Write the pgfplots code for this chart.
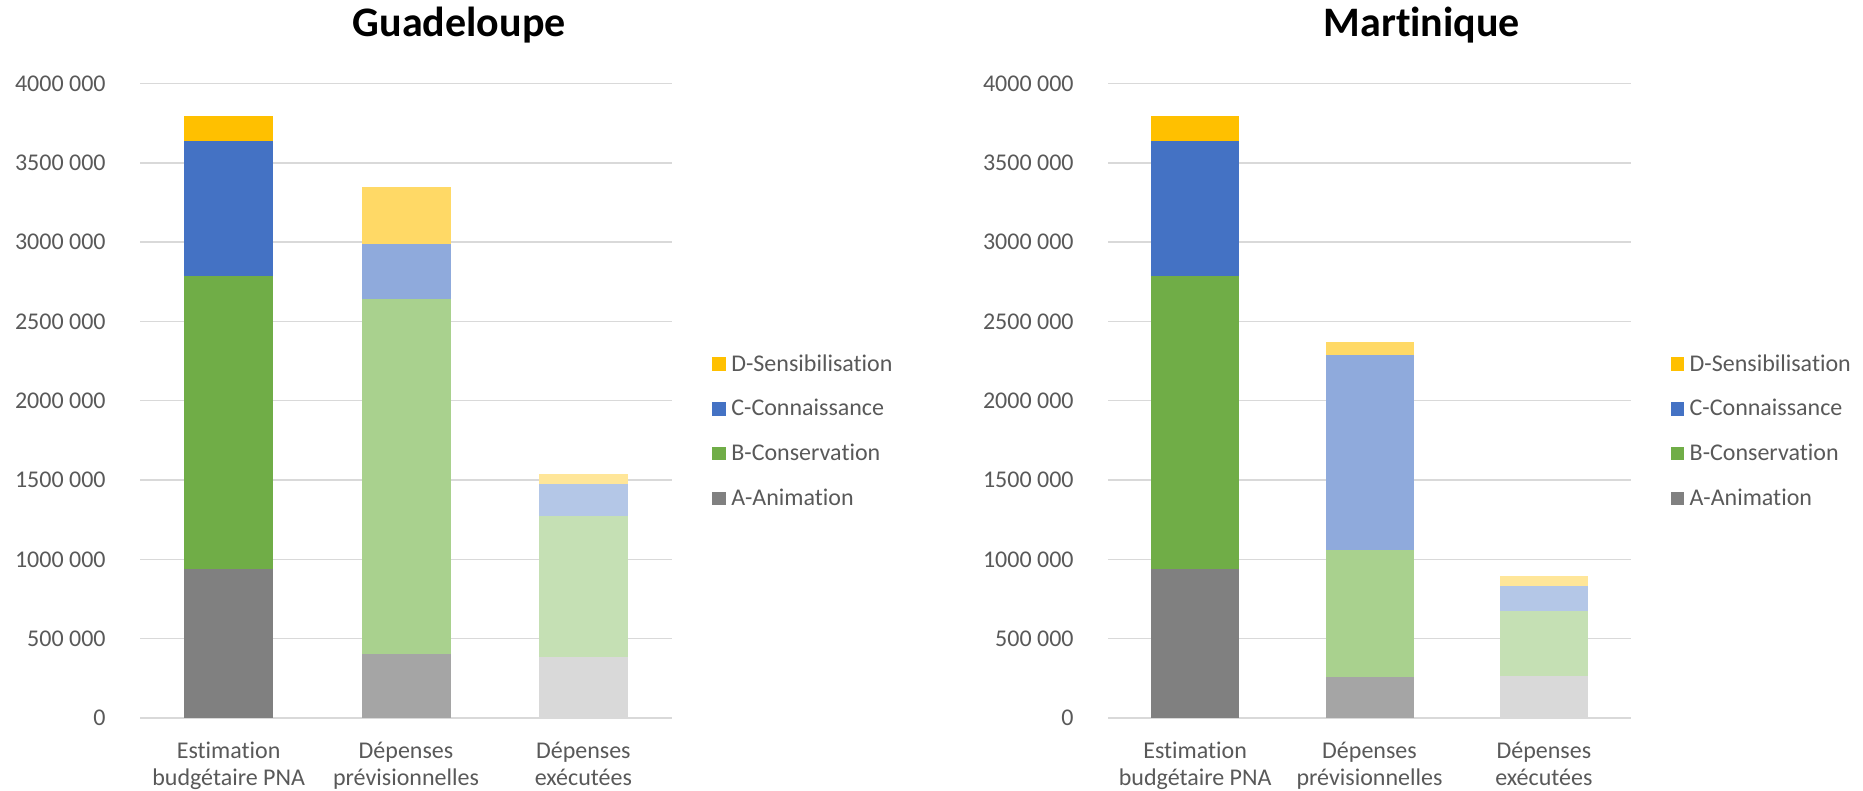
\documentclass[border=0pt]{standalone}
\usepackage{pgfplots}
\pgfplotsset{compat=1.18}
\usepackage{fontspec}
\setmainfont{Carlito}[Ligatures={NoCommon}]

\definecolor{aA}{HTML}{808080}\definecolor{aB}{HTML}{A5A5A5}\definecolor{aC}{HTML}{D9D9D9}
\definecolor{bA}{HTML}{70AD47}\definecolor{bB}{HTML}{A9D18E}\definecolor{bC}{HTML}{C5E0B4}
\definecolor{cA}{HTML}{4472C4}\definecolor{cB}{HTML}{8FAADC}\definecolor{cC}{HTML}{B4C7E7}
\definecolor{dA}{HTML}{FFC000}\definecolor{dB}{HTML}{FFD966}\definecolor{dC}{HTML}{FFE699}
\definecolor{gridc}{HTML}{D9D9D9}
\definecolor{txt}{HTML}{595959}

\pgfplotsset{
  budget/.style={
    ybar stacked,
    scale only axis,
    height=317.2pt,
    xmin=-0.5, xmax=2.5,
    ymin=0, ymax=4000000,
    scaled y ticks=false,
    xtick={0,1,2},
    xticklabels={{Estimation\\budgétaire PNA},{Dépenses\\prévisionnelles},{Dépenses\\exécutées}},
    ytick={0,500000,1000000,1500000,2000000,2500000,3000000,3500000,4000000},
    yticklabels={0,500 000,1000 000,1500 000,2000 000,2500 000,3000 000,3500 000,4000 000},
    ymajorgrids,
    grid style={color=gridc, line width=0.7pt},
    axis line style={draw=none},
    major tick length=0pt,
    tick label style={font=\fontsize{12}{13.5}\selectfont, text=txt},
    yticklabel style={anchor=east, inner sep=0pt, xshift=-17pt},
    xticklabel style={align=center, anchor=north, inner sep=0pt, yshift=-12pt},
    every axis title shift=0pt,
    title style={at={(0.6,1.0735)}, anchor=base, font=\fontsize{21}{24}\selectfont\bfseries},
    legend style={at={(1.0753,0.452)}, anchor=west, draw=none, fill=none,
      inner sep=0pt, row sep=12.6pt, font=\fontsize{12}{13.5}\selectfont, text=txt,
      nodes={inner xsep=1.25pt, inner ysep=0pt},
      /tikz/every odd column/.append style={column sep=1.5pt}},
    legend cell align=left,
    legend image code/.code={\fill[##1,draw=none] (0pt,-3.35pt) rectangle (6.7pt,3.35pt);},
    every axis plot/.append style={draw=none},
  }
}

\begin{document}
\begin{tikzpicture}
\path[use as bounding box] (0pt,-36.5pt) rectangle (931.5pt,359pt);

\begin{axis}[budget, at={(70pt,0pt)}, anchor=south west, width=266pt, bar width=44.5pt,
  title={Guadeloupe}]
  \addlegendimage{fill=dA}
  \addlegendimage{fill=cA}
  \addlegendimage{fill=bA}
  \addlegendimage{fill=aA}
  \addplot[fill=aA] coordinates {(0,939000) (1,0) (2,0)};
  \addplot[fill=aB] coordinates {(0,0) (1,405000) (2,0)};
  \addplot[fill=aC] coordinates {(0,0) (1,0) (2,382000)};
  \addplot[fill=bA] coordinates {(0,1849000) (1,0) (2,0)};
  \addplot[fill=bB] coordinates {(0,0) (1,2236000) (2,0)};
  \addplot[fill=bC] coordinates {(0,0) (1,0) (2,892000)};
  \addplot[fill=cA] coordinates {(0,851000) (1,0) (2,0)};
  \addplot[fill=cB] coordinates {(0,0) (1,350000) (2,0)};
  \addplot[fill=cC] coordinates {(0,0) (1,0) (2,201000)};
  \addplot[fill=dA] coordinates {(0,156000) (1,0) (2,0)};
  \addplot[fill=dB] coordinates {(0,0) (1,356000) (2,0)};
  \addplot[fill=dC] coordinates {(0,0) (1,0) (2,65000)};
  \legend{D-Sensibilisation,C-Connaissance,B-Conservation,A-Animation}
\end{axis}

\begin{axis}[budget, at={(554pt,0pt)}, anchor=south west, width=261.5pt, bar width=44pt,
  title={Martinique}]
  \addlegendimage{fill=dA}
  \addlegendimage{fill=cA}
  \addlegendimage{fill=bA}
  \addlegendimage{fill=aA}
  \addplot[fill=aA] coordinates {(0,939000) (1,0) (2,0)};
  \addplot[fill=aB] coordinates {(0,0) (1,260000) (2,0)};
  \addplot[fill=aC] coordinates {(0,0) (1,0) (2,267000)};
  \addplot[fill=bA] coordinates {(0,1849000) (1,0) (2,0)};
  \addplot[fill=bB] coordinates {(0,0) (1,798000) (2,0)};
  \addplot[fill=bC] coordinates {(0,0) (1,0) (2,407000)};
  \addplot[fill=cA] coordinates {(0,851000) (1,0) (2,0)};
  \addplot[fill=cB] coordinates {(0,0) (1,1229000) (2,0)};
  \addplot[fill=cC] coordinates {(0,0) (1,0) (2,158000)};
  \addplot[fill=dA] coordinates {(0,156000) (1,0) (2,0)};
  \addplot[fill=dB] coordinates {(0,0) (1,84000) (2,0)};
  \addplot[fill=dC] coordinates {(0,0) (1,0) (2,65000)};
  \legend{D-Sensibilisation,C-Connaissance,B-Conservation,A-Animation}
\end{axis}
\end{tikzpicture}
\end{document}
